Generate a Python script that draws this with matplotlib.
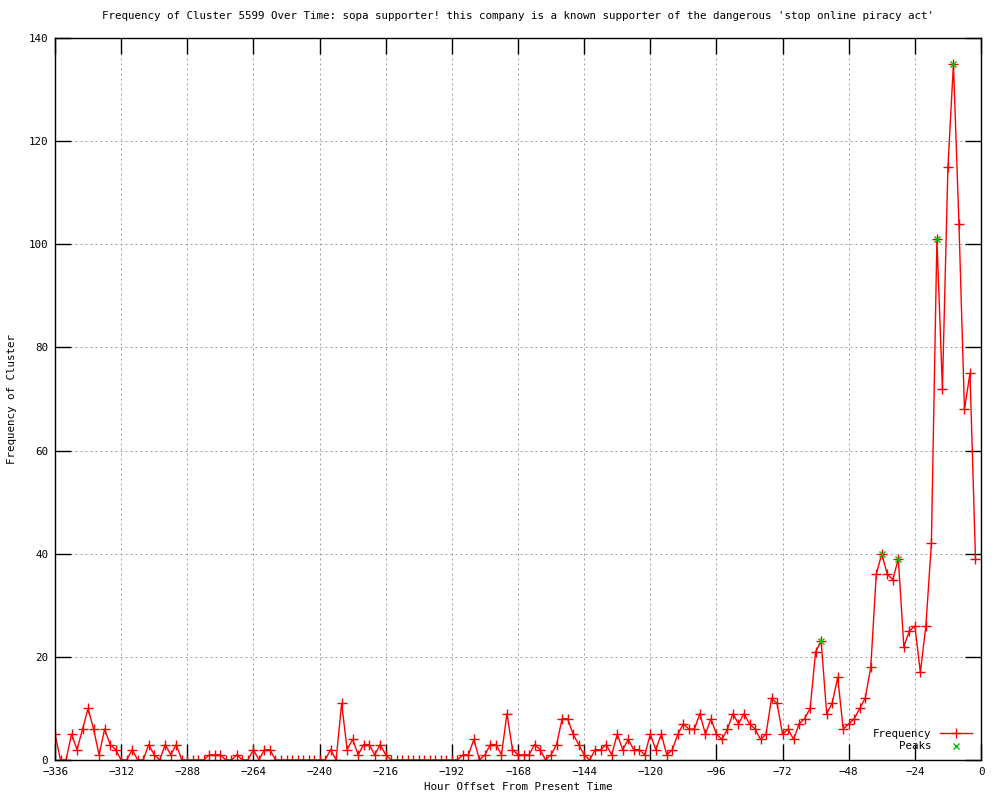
import numpy as np
import matplotlib
matplotlib.use('Agg')
import matplotlib.pyplot as plt

# hour offsets, every 2 hours from -336 to -2
hours = list(range(-336, 0, 2))

freq = [5, 0, 0, 5, 2, 6, 10, 6, 1, 6, 3, 2,          # -336 .. -314
        0, 0, 2, 0, 0, 3, 1, 0, 3, 1, 3, 0,           # -312 .. -290
        0, 0, 0, 0, 1, 1, 1, 0, 0, 1, 0, 0,           # -288 .. -266
        2, 0, 2, 2, 0, 0, 0, 0, 0, 0, 0, 0,           # -264 .. -242
        0, 0, 2, 0, 11, 2, 4, 1, 3, 3, 1, 3,          # -240 .. -218
        1, 0, 0, 0, 0, 0, 0, 0, 0, 0, 0, 0,           # -216 .. -194
        0, 0, 1, 1, 4, 0, 1, 3, 3, 1, 9, 2,           # -192 .. -170
        1, 1, 1, 3, 2, 0, 1, 3, 8, 8, 5, 3,           # -168 .. -146
        1, 0, 2, 2, 3, 1, 5, 2, 4, 2, 2, 1,           # -144 .. -122
        5, 2, 5, 1, 2, 5, 7, 6, 6, 9, 5, 8,           # -120 .. -98
        5, 4, 6, 9, 7, 9, 7, 6, 4, 5, 12, 11,         # -96 .. -74
        5, 6, 4, 7, 8, 10, 21, 23, 9, 11, 16, 6,      # -72 .. -50
        7, 8, 10, 12, 18, 36, 40, 36, 35, 39, 22, 25, # -48 .. -26
        26, 17, 26, 42, 101, 72, 115, 135, 104, 68, 75, 39]  # -24 .. -2

peak_hours = [-58, -36, -30, -16, -10]
peak_freq = [23, 40, 39, 101, 135]

xticks = list(range(-336, 1, 24))
yticks = list(range(0, 141, 20))

title = ("Frequency of Cluster 5599 Over Time: sopa supporter! this company is "
         "a known supporter of the dangerous 'stop online piracy act'")

plt.rcParams['font.family'] = 'DejaVu Sans Mono'
plt.rcParams['font.size'] = 7.8

fig = plt.figure(figsize=(10, 8), dpi=100)
ax = fig.add_axes([0.055, 0.05, 0.926, 0.9025])

ax.plot(hours, freq, color='red', lw=1, marker='+', ms=6.5, mew=1, label='Frequency')
ax.plot(peak_hours, peak_freq, ls='none', color='#00c000', marker='x', ms=5, mew=1,
        label='Peaks')

ax.set_xlim(-336, 0)
ax.set_ylim(0, 140)
ax.set_xticks(xticks)
ax.set_yticks(yticks)
ax.tick_params(direction='in', length=11.5, width=1, top=True, right=True,
               labeltop=False, labelright=False, pad=5)
ax.grid(True, color='#a0a0a0', ls=(0, (2, 3)), lw=0.72)
for s in ax.spines.values():
    s.set_linewidth(1)

ax.set_title(title, fontsize=7.8, pad=14)
ax.set_xlabel('Hour Offset From Present Time', labelpad=4)
ax.set_ylabel('Frequency of Cluster', labelpad=8)

ax.legend(loc='lower right', frameon=False, markerfirst=False, handlelength=3.0,
          borderaxespad=0.4, labelspacing=0.2, handletextpad=0.8)

fig.savefig('out.png', dpi=100)
